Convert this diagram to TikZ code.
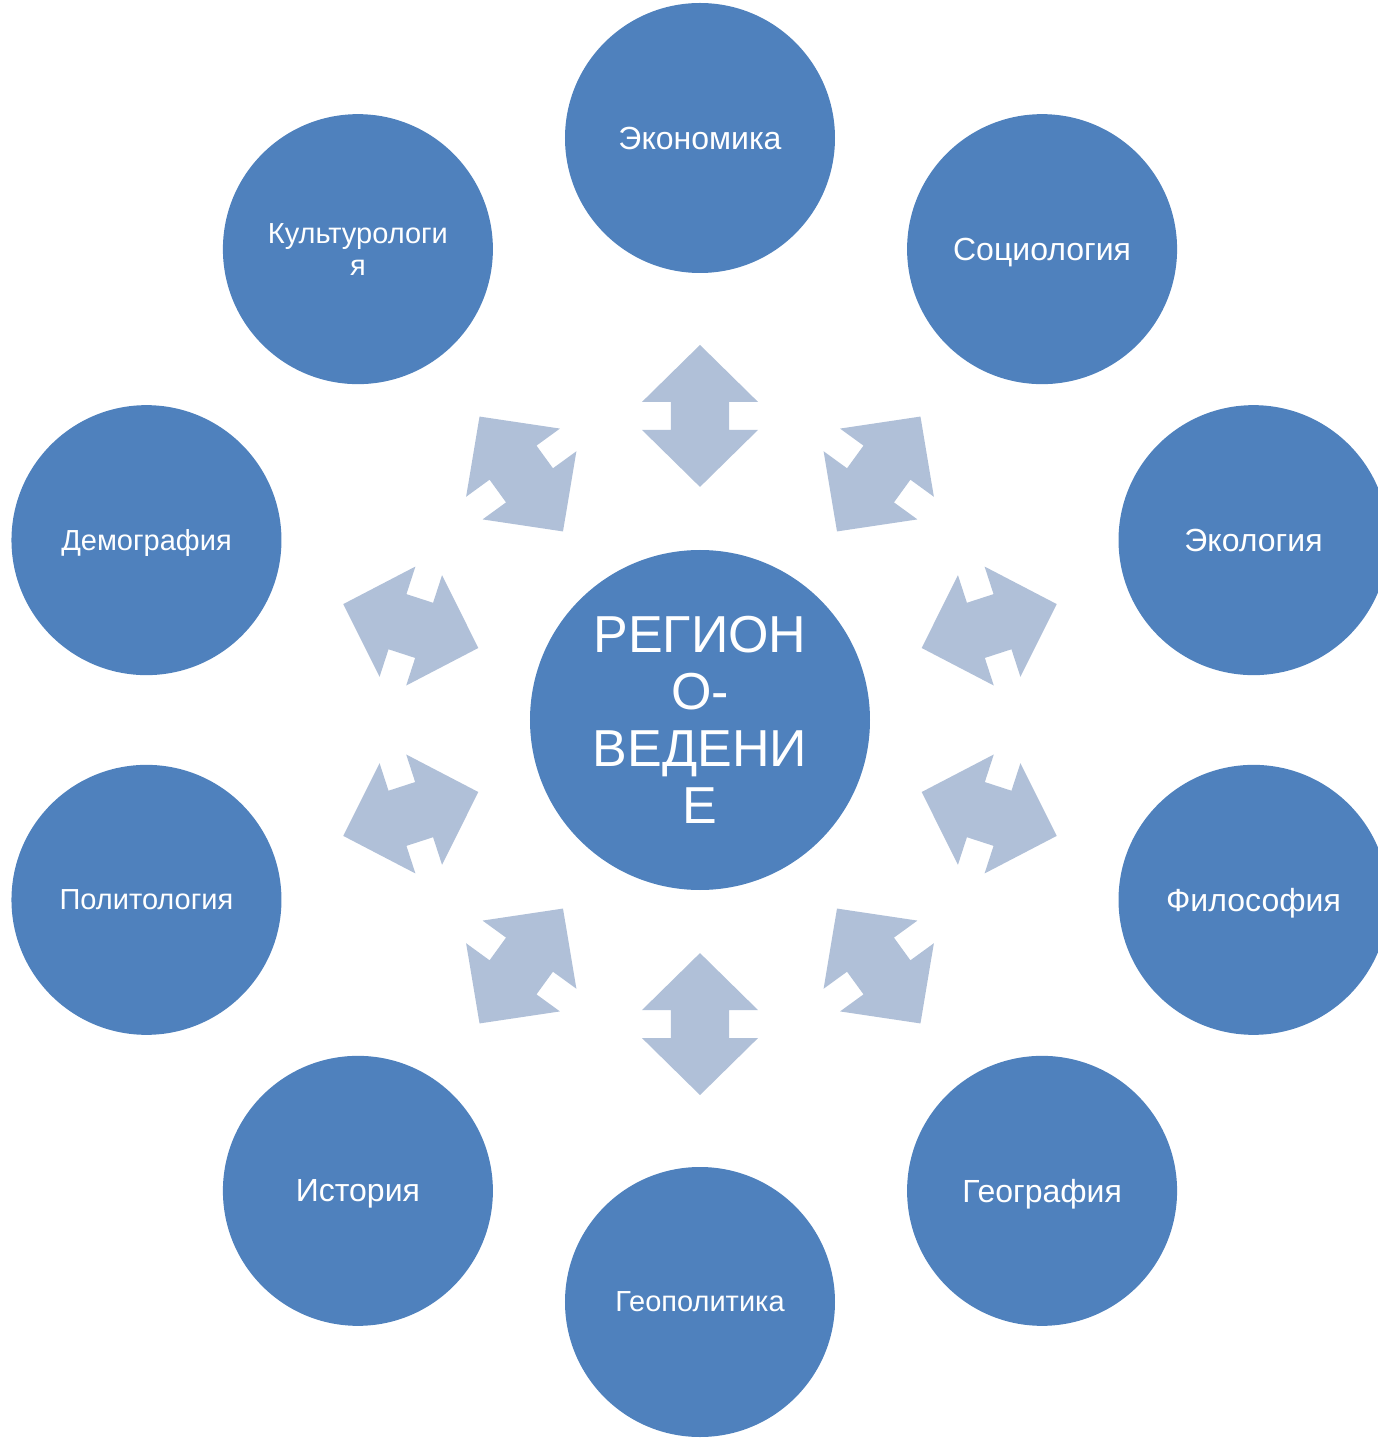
\documentclass[tikz,border=0pt]{standalone}
\usepackage{fontspec}
\setmainfont{Liberation Sans}
\definecolor{discblue}{HTML}{4F81BD}
\definecolor{arrowgrey}{HTML}{B0C0D8}

\begin{document}
\begin{tikzpicture}
        [
            x = 1pt, y = 1pt,
            disc/.style = {circle, fill = discblue, text = white, inner sep = 0pt, minimum size = 270pt, align = center, text depth = 0pt, font = \fontsize{29}{32}\selectfont},
            wide/.style = {font = \fontsize{32}{35}\selectfont},
            hub/.style = {circle, fill = discblue, text = white, inner sep = 0pt, minimum size = 340pt, align = center, font = \fontsize{52}{57}\selectfont},
            twoway/.pic = {
                \fill[arrowgrey] (71,0) -- (14,58) -- (14,29) -- (-14,29) -- (-14,58) -- (-71,0)
                    -- (-14,-58) -- (-14,-29) -- (14,-29) -- (14,-58) -- cycle;
            },
        ]

        \useasboundingbox (-700,-720) rectangle (677,720);

        \node[hub] (region) at (0,0) {РЕГИОН\\О-\\ВЕДЕНИ\\Е};

        \node[disc, wide] (economy) at (90:582) {Экономика};
        \node[disc, wide] (sociology) at (54:582) {Социология};
        \node[disc, wide] (ecology) at (18:582) {Экология};
        \node[disc, wide] (philosophy) at (-18:582) {Философия};
        \node[disc, wide] (geography) at (-54:582) {География};
        \node[disc] (geopolitics) at (-90:582) {Геополитика};
        \node[disc, wide] (history) at (-126:582) {История};
        \node[disc] (politics) at (-162:582) {Политология};
        \node[disc] (demography) at (162:582) {Демография};
        \node[disc] (culture) at (126:582) {Культурологи\\я};

        \path (region) -- coordinate[pos = 0.484] (economy link) (economy);
        \path (region) -- coordinate[pos = 0.484] (sociology link) (sociology);
        \path (region) -- coordinate[pos = 0.484] (ecology link) (ecology);
        \path (region) -- coordinate[pos = 0.484] (philosophy link) (philosophy);
        \path (region) -- coordinate[pos = 0.484] (geography link) (geography);
        \path (region) -- coordinate[pos = 0.484] (geopolitics link) (geopolitics);
        \path (region) -- coordinate[pos = 0.484] (history link) (history);
        \path (region) -- coordinate[pos = 0.484] (politics link) (politics);
        \path (region) -- coordinate[pos = 0.484] (demography link) (demography);
        \path (region) -- coordinate[pos = 0.484] (culture link) (culture);

        \pic[rotate = 90] at (economy link) {twoway};
        \pic[rotate = 54] at (sociology link) {twoway};
        \pic[rotate = 18] at (ecology link) {twoway};
        \pic[rotate = -18] at (philosophy link) {twoway};
        \pic[rotate = -54] at (geography link) {twoway};
        \pic[rotate = -90] at (geopolitics link) {twoway};
        \pic[rotate = -126] at (history link) {twoway};
        \pic[rotate = -162] at (politics link) {twoway};
        \pic[rotate = 162] at (demography link) {twoway};
        \pic[rotate = 126] at (culture link) {twoway};

    \end{tikzpicture}
\end{document}
